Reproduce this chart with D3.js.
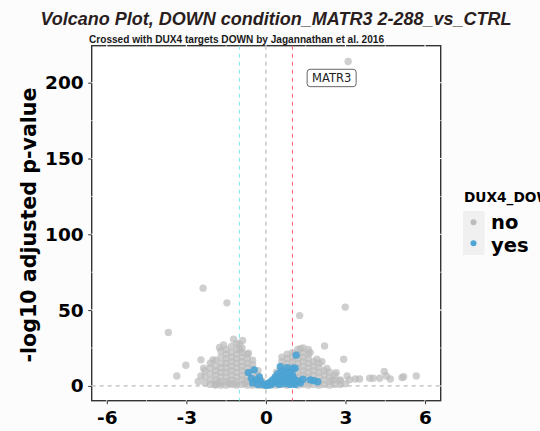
<!DOCTYPE html>
<html>
<head>
<meta charset="utf-8">
<script src="https://cdn.jsdelivr.net/npm/d3@7/dist/d3.min.js"></script>
<style>
  body { margin: 0; background: #fcfcfd; }
  svg { display: block; }
</style>
</head>
<body>
<div id="chart"></div>
<script>
// log2FC / -log10 padj
const notTargets = [
  [-2.3, 2], [-2.3, 6], [-2.3, 10],
  [-2.1, 1], [-2.1, 4], [-2.1, 8], [-2.1, 12], [-2.1, 15],
  [-1.9, 1], [-1.9, 4], [-1.9, 7], [-1.9, 10], [-1.9, 13], [-1.9, 17],
  [-1.7, 0.5], [-1.7, 3], [-1.7, 6], [-1.7, 9], [-1.7, 12], [-1.7, 15], [-1.7, 19], [-1.7, 23],
  [-1.5, 0.5], [-1.5, 3], [-1.5, 6], [-1.5, 9], [-1.5, 12], [-1.5, 15], [-1.5, 18], [-1.5, 21], [-1.5, 24],
  [-1.3, 1], [-1.3, 4], [-1.3, 7], [-1.3, 10], [-1.3, 13], [-1.3, 16], [-1.3, 19], [-1.3, 22], [-1.3, 26],
  [-1.1, 0.5], [-1.1, 3], [-1.1, 6], [-1.1, 9], [-1.1, 12], [-1.1, 15], [-1.1, 18], [-1.1, 21], [-1.1, 24], [-1.1, 28],
  [-0.9, 1], [-0.9, 4], [-0.9, 7], [-0.9, 10], [-0.9, 13], [-0.9, 16], [-0.9, 19], [-0.9, 22], [-0.9, 25],
  [-0.7, 0.5], [-0.7, 3], [-0.7, 6], [-0.7, 9], [-0.7, 12], [-0.7, 15], [-0.7, 18], [-0.7, 21],
  [-0.5, 0.5], [-0.5, 2.5], [-0.5, 5], [-0.5, 8], [-0.5, 11], [-0.5, 14], [-0.5, 17],
  [-0.3, 0.5], [-0.3, 2], [-0.3, 4], [-0.3, 7], [-0.3, 10],
  [-0.15, 0.3], [-0.15, 1.5], [-0.15, 3.5],
  [-2.45, 17.2], [-2.0, 17.2], [-2.35, 11.7], [-2.45, 6.6], [-3.02, 13.6], [-3.36, 6.6],
  [-3.68, 35.2], [-2.37, 64.5], [-1.47, 54.8], [-1.75, 25.3], [-1.22, 30.8], [-0.88, 30],
  [-0.66, 21.6], [-0.97, 23.8], [-1.91, 0.6], [-2.55, 3],
  [-1.6, 27], [-1.0, 27.5], [-1.2, 1.5], [-0.8, 2], [-1.4, 2], [-1.8, 2],
  [0.2, 0.5], [0.2, 2],
  [0.4, 0.5], [0.4, 3], [0.4, 6], [0.4, 9],
  [0.6, 1], [0.6, 4], [0.6, 7], [0.6, 10], [0.6, 13], [0.6, 16], [0.6, 19],
  [0.8, 0.5], [0.8, 3], [0.8, 6], [0.8, 9], [0.8, 12], [0.8, 15], [0.8, 18], [0.8, 21],
  [1.0, 1], [1.0, 4], [1.0, 7], [1.0, 10], [1.0, 13], [1.0, 16], [1.0, 19], [1.0, 22],
  [1.2, 0.5], [1.2, 3], [1.2, 6], [1.2, 9], [1.2, 12], [1.2, 15], [1.2, 18], [1.2, 21], [1.2, 24],
  [1.4, 1], [1.4, 4], [1.4, 7], [1.4, 10], [1.4, 13], [1.4, 16], [1.4, 19], [1.4, 22], [1.4, 25],
  [1.6, 0.5], [1.6, 3], [1.6, 6], [1.6, 9], [1.6, 12], [1.6, 15], [1.6, 18], [1.6, 21], [1.6, 24],
  [1.8, 1], [1.8, 4], [1.8, 7], [1.8, 10], [1.8, 13], [1.8, 16],
  [2.0, 0.5], [2.0, 3], [2.0, 6], [2.0, 9], [2.0, 12], [2.0, 15],
  [2.2, 1], [2.2, 4], [2.2, 7], [2.2, 10],
  [2.4, 0.5], [2.4, 3], [2.4, 6], [2.4, 9],
  [2.6, 1], [2.6, 4], [2.6, 7],
  [2.8, 1], [2.8, 3.5], [3.0, 1.5],
  [1.27, 46.4], [2.99, 52], [2.21, 26.4], [2.93, 17.6], [1.92, 17.6], [2.11, 16],
  [2.3, 11.6], [2.65, 8.8], [2.49, 4], [2.8, 4], [3.06, 6.6], [3.15, 4], [3.37, 4.6],
  [3.53, 4.6], [3.91, 5.1], [4.04, 5.1], [4.29, 5.1], [4.46, 9.6], [4.54, 6.6], [4.69, 4.6],
  [5.13, 5.5], [5.19, 6.1], [5.67, 6.6], [1.3, 24.5], [1.67, 22],
  [3.1, 214]
];

const dux4Targets = [
  [-0.66, 8.8], [-0.44, 10.6], [-0.34, 4], [-0.5, 2], [-0.3, 1], [-0.2, 3], [-0.1, 1],
  [0, 0.3], [0.05, 1.5], [0.1, 0.5], [0.15, 2.5], [0.2, 1], [0.25, 4], [0.3, 2], [0.35, 6],
  [0.4, 3], [0.45, 8], [0.5, 1], [0.5, 5], [0.54, 12.7], [0.6, 10], [0.6, 3], [0.65, 7],
  [0.7, 1.5], [0.7, 5], [0.75, 9], [0.8, 3], [0.8, 12], [0.85, 6], [0.9, 1], [0.9, 9],
  [0.95, 4], [1.0, 7], [1.0, 2], [1.02, 11.7], [1.1, 11.7], [1.14, 20.3], [1.05, 5],
  [1.1, 1], [1.2, 3.5], [1.3, 2], [1.4, 4.4], [1.67, 4], [1.8, 3.5], [1.95, 2.8],
  [-0.25, 6], [-0.55, 5]
];

const xTicks = [-6, -3, 0, 3, 6];
const xMinor = [-4.5, -1.5, 1.5, 4.5];
const yTicks = [0, 50, 100, 150, 200];
const yMinor = [25, 75, 125, 175];
const cutoffs = [
  { fc: -1, color: '#7fe8ea' },
  { fc: 0, color: '#a9a9a9' },
  { fc: 1, color: '#f4636b' }
];
const labelled = { name: 'MATR3', fc: 3.1, p: 214 };
const legendItems = [
  { label: 'no', color: '#bcbcbc' },
  { label: 'yes', color: '#4ea5d6' }
];

const W = 540, H = 431;
const svg = d3.select('#chart').append('svg').attr('width', W).attr('height', H);

const x = d3.scaleLinear().domain([-6.57, 6.59]).range([91.7, 440.7]);
const y = d3.scaleLinear().domain([-9.74, 224.4]).range([400.7, 45.7]);
const [x0, x1] = x.range();
const [y0, y1] = [y.range()[1], y.range()[0]];

// panel background with its border, grid drawn on top of it
svg.append('rect')
  .attr('x', x0).attr('y', y0).attr('width', x1 - x0).attr('height', y1 - y0)
  .attr('fill', '#ffffff').attr('stroke', '#333').attr('stroke-width', 1.4);

const grid = svg.append('g').attr('stroke', '#fff');
grid.selectAll('.gx').data(xTicks.concat(xMinor)).join('line')
  .attr('x1', d => x(d)).attr('x2', d => x(d)).attr('y1', y0 - 1).attr('y2', y1 + 1)
  .attr('stroke-width', d => xTicks.includes(d) ? 1.1 : 0.6);
grid.selectAll('.gy').data(yTicks.concat(yMinor)).join('line')
  .attr('y1', d => y(d)).attr('y2', d => y(d)).attr('x1', x0 - 1).attr('x2', x1 + 1)
  .attr('stroke-width', d => yTicks.includes(d) ? 1.1 : 0.6);

// threshold lines
svg.append('line')
  .attr('x1', x0).attr('x2', x1).attr('y1', y(0)).attr('y2', y(0))
  .attr('stroke', '#a9a9a9').attr('stroke-width', 1).attr('stroke-dasharray', '4,4');
svg.selectAll('.vl').data(cutoffs).join('line')
  .attr('x1', d => x(d.fc)).attr('x2', d => x(d.fc)).attr('y1', y0).attr('y2', y1)
  .attr('stroke', d => d.color).attr('stroke-width', 1).attr('stroke-dasharray', '4,4');

// points
svg.append('g').selectAll('circle').data(notTargets).join('circle')
  .attr('cx', d => x(d[0])).attr('cy', d => y(d[1])).attr('r', 3.7)
  .attr('fill', '#bbbbbb').attr('fill-opacity', 0.7);
svg.append('g').selectAll('circle').data(dux4Targets).join('circle')
  .attr('cx', d => x(d[0])).attr('cy', d => y(d[1])).attr('r', 3.7)
  .attr('fill', '#4aa3d3').attr('fill-opacity', 0.9);

// gene label
const lab = svg.append('g').attr('transform', `translate(${x(labelled.fc) - 16.5},${y(labelled.p) + 16.5})`);
lab.append('rect').attr('x', -24.5).attr('y', -8.7).attr('width', 49).attr('height', 17.4)
  .attr('rx', 3).attr('fill', '#fff').attr('stroke', '#555').attr('stroke-width', 0.9);
lab.append('text').attr('text-anchor', 'middle').attr('y', 4.2)
  .attr('font-family', 'DejaVu Sans').attr('font-size', 11.5).attr('fill', '#222')
  .text(labelled.name);

// axes
const xAxis = svg.append('g').attr('transform', `translate(0,${y1})`)
  .call(d3.axisBottom(x).tickValues(xTicks).tickSize(3.5).tickPadding(5).tickFormat(d => d < 0 ? '-' + Math.abs(d) : d));
const yAxis = svg.append('g').attr('transform', `translate(${x0},0)`)
  .call(d3.axisLeft(y).tickValues(yTicks).tickSize(3.5).tickPadding(4.5));
[xAxis, yAxis].forEach(a => {
  a.select('.domain').remove();
  a.selectAll('line').attr('stroke', '#333');
  a.selectAll('text').attr('font-family', 'DejaVu Sans').attr('font-weight', 'bold')
    .attr('font-size', 18.5).attr('fill', '#000');
});
xAxis.selectAll('text').attr('dy', '0.78em');

svg.append('text')
  .attr('transform', `translate(36,225) rotate(-90)`)
  .attr('text-anchor', 'middle')
  .attr('font-family', 'DejaVu Sans').attr('font-weight', 'bold').attr('font-size', 20.6)
  .attr('fill', '#000')
  .text('-log10 adjusted p-value');

// titles
svg.append('text')
  .attr('x', 276).attr('y', 25).attr('text-anchor', 'middle')
  .attr('font-family', 'Liberation Sans, Arial').attr('font-weight', 'bold').attr('font-style', 'italic')
  .attr('font-size', 18).attr('fill', '#2a1e1e')
  .text('Volcano Plot, DOWN condition_MATR3 2-288_vs_CTRL');
svg.append('text')
  .attr('x', 89).attr('y', 42.5)
  .attr('font-family', 'Liberation Sans, Arial').attr('font-weight', 'bold')
  .attr('font-size', 10.1).attr('fill', '#1a1a1a')
  .text('Crossed with DUX4 targets DOWN by Jagannathan et al. 2016');

// legend
const leg = svg.append('g');
leg.append('text').attr('x', 464).attr('y', 202)
  .attr('font-family', 'DejaVu Sans').attr('font-weight', 'bold').attr('font-size', 13.7)
  .attr('fill', '#000').text('DUX4_DOWN');
leg.append('rect').attr('x', 463).attr('y', 211).attr('width', 21.5).attr('height', 44)
  .attr('fill', '#f0f0f0');
leg.selectAll('circle').data(legendItems).join('circle')
  .attr('cx', 473.5).attr('cy', (d, i) => 222.3 + i * 21).attr('r', 3)
  .attr('fill', d => d.color);
leg.selectAll('.lt').data(legendItems).join('text')
  .attr('x', 491).attr('y', (d, i) => 229 + i * 22.5)
  .attr('font-family', 'DejaVu Sans').attr('font-weight', 'bold').attr('font-size', 19.5)
  .attr('fill', '#000').text(d => d.label);
</script>
</body>
</html>
